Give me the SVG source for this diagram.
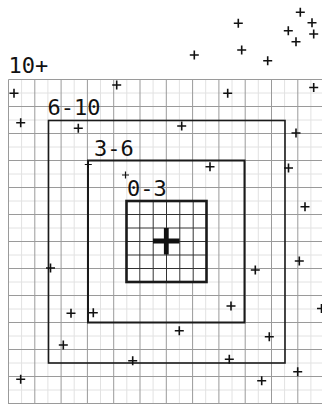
<svg xmlns="http://www.w3.org/2000/svg" width="322" height="406" viewBox="0 0 322 406">
<defs>
<style>
.minor{stroke:#e2e2e2;stroke-width:1;fill:none}
.major{stroke:#9a9a9a;stroke-width:1;fill:none}
.box{fill:none;stroke:#1a1a1a}
.inner{stroke:#333;stroke-width:1;fill:none}
.lbl{font-family:"DejaVu Sans Mono","Liberation Mono",monospace;font-size:22px;fill:#111}
.pl{stroke:#111;stroke-width:1.6;fill:none}
.pls{stroke:#111;stroke-width:1.2;fill:none}
</style>
<path id="p" d="M-4.5,0H4.5M0,-4.5V4.5"/>
<path id="ps" d="M-3.5,0H3.5M0,-3.5V3.5"/>
</defs>
<rect width="322" height="406" fill="#fff"/>
<g id="grid">
<path class="minor" d="M21.6,79.5V404M47.9,79.5V404M74.2,79.5V404M100.5,79.5V404M126.8,79.5V404M153.1,79.5V404M179.4,79.5V404M205.7,79.5V404M232,79.5V404M258.3,79.5V404M284.6,79.5V404M310.9,79.5V404M8.5,93H322M8.5,120H322M8.5,147H322M8.5,174H322M8.5,201H322M8.5,228H322M8.5,255H322M8.5,282H322M8.5,309H322M8.5,336H322M8.5,363H322M8.5,390H322"/>
<path class="major" d="M8.5,79.5V404M34.8,79.5V404M61.1,79.5V404M87.4,79.5V404M113.7,79.5V404M140,79.5V404M166.3,79.5V404M192.6,79.5V404M218.9,79.5V404M245.2,79.5V404M271.5,79.5V404M297.8,79.5V404M8.5,79.5H322M8.5,106.5H322M8.5,133.5H322M8.5,160.5H322M8.5,187.5H322M8.5,214.5H322M8.5,241.5H322M8.5,268.5H322M8.5,295.5H322M8.5,322.5H322M8.5,349.5H322M8.5,376.5H322M8.5,403.5H322"/>
</g>
<g id="zone-10plus">
<text class="lbl" x="8.5" y="73">10+</text>
</g>
<g id="zone-6-10">
<rect class="box" x="48.5" y="120.5" width="236.5" height="242.5" stroke-width="1.6"/>
<text class="lbl" x="47.5" y="115">6-10</text>
</g>
<g id="zone-3-6">
<rect class="box" x="88" y="160.5" width="156.5" height="162" stroke-width="2"/>
<text class="lbl" x="94" y="156">3-6</text>
</g>
<g id="zone-0-3">
<rect fill="#fff" x="126.5" y="201" width="80" height="81"/>
<path class="inner" d="M139.8,201V282M153.2,201V282M166.5,201V282M179.8,201V282M193.2,201V282M126.5,214.5H206.5M126.5,228H206.5M126.5,241.5H206.5M126.5,255H206.5M126.5,268.5H206.5"/>
<rect class="box" x="126.5" y="201" width="80" height="81" stroke-width="2.6"/>
<text class="lbl" x="127" y="196">0-3</text>
<path d="M153,241H179.5M166.3,228V254.5" stroke="#111" stroke-width="4.8" fill="none"/>
</g>
<g id="points">
<use href="#p" class="pl" x="300.3" y="12.3"/>
<use href="#p" class="pl" x="238.3" y="23.3"/>
<use href="#p" class="pl" x="312" y="22.7"/>
<use href="#p" class="pl" x="288.3" y="30.7"/>
<use href="#p" class="pl" x="313.7" y="34"/>
<use href="#p" class="pl" x="296" y="41.7"/>
<use href="#p" class="pl" x="241.7" y="50"/>
<use href="#p" class="pl" x="194.3" y="55"/>
<use href="#p" class="pl" x="267.7" y="60.7"/>
<use href="#p" class="pl" x="227.7" y="93.3"/>
<use href="#p" class="pl" x="313.7" y="87.5"/>
<use href="#p" class="pl" x="181.7" y="126"/>
<use href="#p" class="pl" x="296" y="133"/>
<use href="#p" class="pl" x="14" y="93.3"/>
<use href="#p" class="pl" x="116.7" y="85"/>
<use href="#p" class="pl" x="20.7" y="122.7"/>
<use href="#p" class="pl" x="78.3" y="128.3"/>
<use href="#ps" class="pls" x="88.3" y="164.5"/>
<use href="#ps" class="pls" x="125.5" y="175"/>
<use href="#p" class="pl" x="210" y="166.7"/>
<use href="#p" class="pl" x="288.5" y="168"/>
<use href="#p" class="pl" x="305" y="206.7"/>
<use href="#p" class="pl" x="299.3" y="261"/>
<use href="#p" class="pl" x="255.3" y="270"/>
<use href="#p" class="pl" x="50.5" y="268"/>
<use href="#p" class="pl" x="71" y="313.3"/>
<use href="#p" class="pl" x="93.3" y="312.7"/>
<use href="#p" class="pl" x="63.3" y="345"/>
<use href="#p" class="pl" x="132.7" y="360.7"/>
<use href="#p" class="pl" x="20.7" y="379.3"/>
<use href="#p" class="pl" x="231" y="306"/>
<use href="#p" class="pl" x="179.3" y="330.7"/>
<use href="#p" class="pl" x="269.3" y="336.7"/>
<use href="#p" class="pl" x="229.3" y="359.3"/>
<use href="#p" class="pl" x="297.7" y="371.7"/>
<use href="#p" class="pl" x="261.7" y="380.7"/>
<use href="#p" class="pl" x="321.5" y="308.5"/>
</g>
</svg>
